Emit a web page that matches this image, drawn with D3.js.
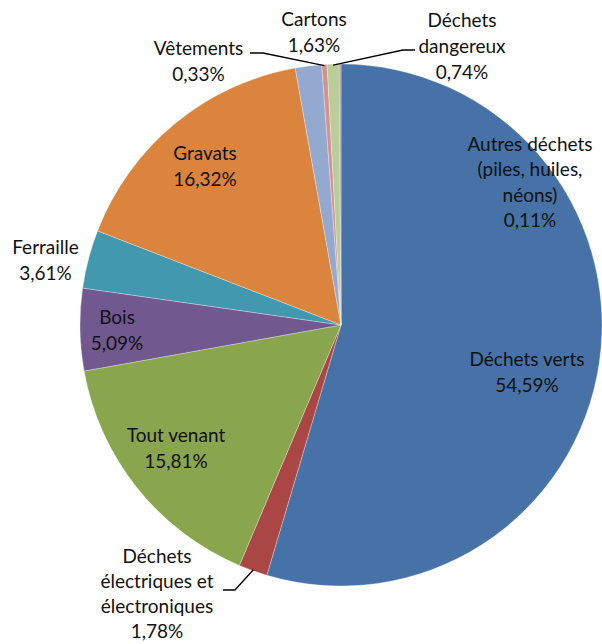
<!DOCTYPE html>
<html>
<head>
<meta charset="utf-8">
<script src="https://cdn.jsdelivr.net/npm/d3@7"></script>
<style>
  html, body { margin: 0; padding: 0; background: #fff; }
  svg { display: block; }
  text { font-family: Lato, "Open Sans", sans-serif; font-size: 19px; fill: #111; }
</style>
</head>
<body>
<svg id="chart" width="602" height="644"></svg>
<script>
// ---- Data ----
const categories = [
  "Déchets verts",
  "Déchets électriques et électroniques",
  "Tout venant",
  "Bois",
  "Ferraille",
  "Gravats",
  "Cartons",
  "Vêtements",
  "Déchets dangereux",
  "Autres déchets (piles, huiles, néons)"
];
const values = [54.59, 1.78, 15.81, 5.09, 3.61, 16.32, 1.63, 0.33, 0.74, 0.11];
const valueLabels = ["54,59%", "1,78%", "15,81%", "5,09%", "3,61%", "16,32%", "1,63%", "0,33%", "0,74%", "0,11%"];
const labelLines = [
  ["Déchets verts"],
  ["Déchets", "électriques et", "électroniques"],
  ["Tout venant"],
  ["Bois"],
  ["Ferraille"],
  ["Gravats"],
  ["Cartons"],
  ["Vêtements"],
  ["Déchets", "dangereux"],
  ["Autres déchets", "(piles, huiles,", "néons)"]
];

// ---- Layout / style (not data) ----
const colors = ["#4672A7", "#AA4643", "#89A54E", "#71588F", "#4198AF", "#DB843D", "#93A9CF", "#D19392", "#B9CD96", "#A99BBD"];
const cx = 341, cy = 325, R = 261;
// label block centres relative to pie centre
const labelOffsets = [
  [186, 46.5], [-184, 268], [-165, 122.5], [-224, 4], [-295.5, -65.5],
  [-136, -159.5], [-27, -293.5], [-142.5, -264.5], [121, -280], [189, -143.5]
];
const lineHeights = [26, 25.3, 26, 26, 26, 26, 26, 26, 26, 25.5];
// leader lines: start and elbow points relative to pie centre; end is on the slice edge
const leaders = {
  1: { start: [-118, 265], elbow: [-106, 265] },
  7: { start: [-91, -272], elbow: [-78, -272] },
  8: { start: [74, -275], elbow: [62, -275] }
};

const svg = d3.select("#chart");
const g = svg.append("g").attr("transform", `translate(${cx},${cy})`);

const pie = d3.pie().sort(null).value(d => d)(values);
const arc = d3.arc().innerRadius(0).outerRadius(R);

g.selectAll("path.slice")
  .data(pie)
  .join("path")
  .attr("class", "slice")
  .attr("d", arc)
  .attr("fill", (d, i) => colors[i])
  .attr("stroke", "rgba(255,255,255,0.5)")
  .attr("stroke-width", 0.6);

// leader lines
Object.entries(leaders).forEach(([k, l]) => {
  const d = pie[+k];
  const a = (d.startAngle + d.endAngle) / 2;
  const end = [Math.sin(a) * (R - 1), -Math.cos(a) * (R - 1)];
  g.append("polyline")
    .attr("points", [l.start, l.elbow, end].map(p => p.join(",")).join(" "))
    .attr("fill", "none")
    .attr("stroke", "#000")
    .attr("stroke-width", 1.3);
});

// labels
pie.forEach((d, i) => {
  const lines = labelLines[i].concat([valueLabels[i]]);
  const [ox, oy] = labelOffsets[i];
  const lh = lineHeights[i];
  const t = g.append("text").attr("text-anchor", "middle");
  lines.forEach((s, j) => {
    t.append("tspan")
      .attr("x", ox)
      .attr("y", oy + (j - (lines.length - 1) / 2) * lh)
      .attr("dominant-baseline", "central")
      .text(s);
  });
});
</script>
</body>
</html>
